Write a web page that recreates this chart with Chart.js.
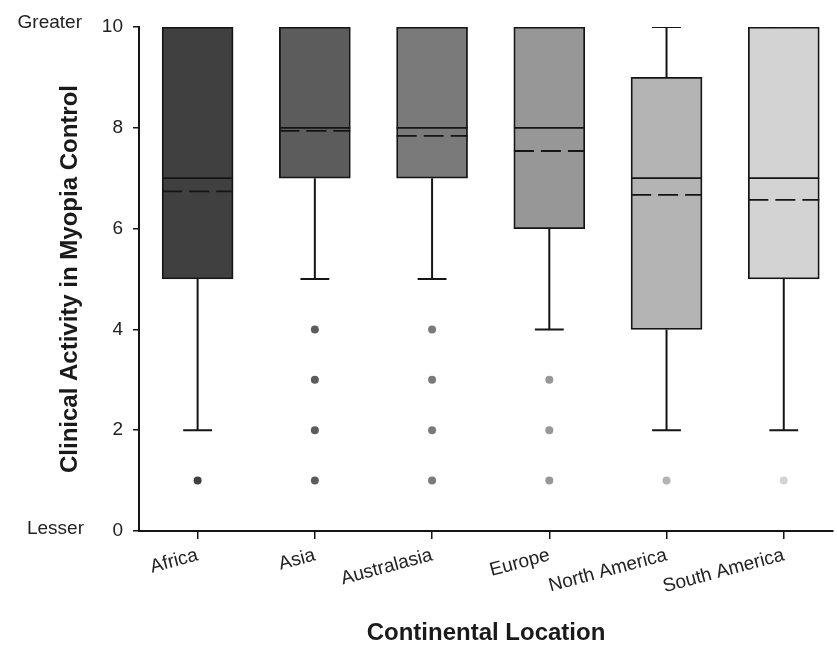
<!DOCTYPE html>
<html><head><meta charset="utf-8">
<script src="https://cdn.jsdelivr.net/npm/chart.js@4.4.0/dist/chart.umd.min.js"></script>
<style>html,body{margin:0;padding:0;background:#fff}#wrap{width:837px;height:645px}</style>
</head><body><div id="wrap"><canvas id="c" width="837" height="645"></canvas></div>
<script>
const categories = ['Africa', 'Asia', 'Australasia', 'Europe', 'North America', 'South America'];
const q1 = [5, 7, 7, 6, 4, 5];
const q3 = [10, 10, 10, 10, 9, 10];
const medians = [7, 8, 8, 8, 7, 7];
const means = [6.74, 7.94, 7.84, 7.54, 6.67, 6.57];
const whiskerLow = [2, 5, 5, 4, 2, 2];
const whiskerHigh = [10, 10, 10, 10, 10, 10];
const outliers = [[1], [4, 3, 2, 1], [4, 3, 2, 1], [3, 2, 1], [1], [1]];
const yTicks = [0, 2, 4, 6, 8, 10];
const yEndLabels = ['Lesser', 'Greater'];

const boxColors = ['#404040', '#5c5c5c', '#7a7a7a', '#979797', '#b4b4b4', '#d3d3d3'];
const INK = '#151515';
const FONT = "'Liberation Sans', Arial, sans-serif";
const BOX_HALF = 0.302, CAP_HALF = 0.123;

function segs(fn) {
  const out = [];
  categories.forEach((c, i) => { fn(i).forEach(p => out.push(p)); out.push({x: i, y: null}); });
  return out;
}
const whiskerData = segs(i => [{x: i, y: whiskerLow[i]}, {x: i, y: q1[i]}, {x: i, y: null}, {x: i, y: q3[i]}, {x: i, y: whiskerHigh[i]}]);
const capData = segs(i => [{x: i - CAP_HALF, y: whiskerLow[i]}, {x: i + CAP_HALF, y: whiskerLow[i]}, {x: i, y: null},
                           {x: i - CAP_HALF, y: whiskerHigh[i]}, {x: i + CAP_HALF, y: whiskerHigh[i]}]);
const medianData = segs(i => [{x: i - BOX_HALF, y: medians[i]}, {x: i + BOX_HALF, y: medians[i]}]);
const meanData = segs(i => [{x: i - BOX_HALF, y: means[i]}, {x: i + BOX_HALF, y: means[i]}]);
const outlierData = [], outlierColors = [];
outliers.forEach((arr, i) => arr.forEach(v => { outlierData.push({x: i, y: v}); outlierColors.push(boxColors[i]); }));

const endLabels = {
  id: 'endLabels',
  afterDraw(chart) {
    const {ctx, scales: {y}} = chart;
    ctx.save();
    ctx.font = '19px ' + FONT;
    ctx.fillStyle = '#222';
    ctx.textAlign = 'right';
    ctx.textBaseline = 'alphabetic';
    ctx.fillText(yEndLabels[1], 82, y.getPixelForValue(yTicks[yTicks.length - 1]) + 1);
    ctx.fillText(yEndLabels[0], 84, y.getPixelForValue(yTicks[0]) + 3);
    ctx.restore();
  }
};

const lineCommon = {type: 'line', borderColor: INK, pointRadius: 0, spanGaps: false, fill: false, tension: 0};

new Chart(document.getElementById('c'), {
  type: 'bar',
  data: {
    datasets: [
      {type: 'bar', data: categories.map((c, i) => ({x: i, y: [q1[i], q3[i]]})), backgroundColor: boxColors,
       borderColor: INK, borderWidth: 1.8, borderSkipped: false, barThickness: 71, order: 10},
      Object.assign({}, lineCommon, {data: whiskerData, borderWidth: 2, order: 6}),
      Object.assign({}, lineCommon, {data: capData, borderWidth: 2, order: 5}),
      Object.assign({}, lineCommon, {data: medianData, borderWidth: 1.8, order: 4}),
      Object.assign({}, lineCommon, {data: meanData, borderWidth: 1.8, borderDash: [20, 7], order: 3}),
      {type: 'scatter', data: outlierData, pointRadius: 4, pointBackgroundColor: outlierColors, pointBorderWidth: 0, order: 1}
    ]
  },
  options: {
    responsive: false,
    devicePixelRatio: 1,
    animation: false,
    layout: {padding: {left: 0, right: 1, top: 27, bottom: 0}},
    plugins: {legend: {display: false}, tooltip: {enabled: false}},
    scales: {
      x: {
        type: 'linear', min: -0.5, max: 5.42, offset: false,
        afterBuildTicks: s => { s.ticks = categories.map((c, i) => ({value: i})); },
        afterFit: s => { s.height = 114; s.paddingLeft = 0; s.paddingRight = 0; },
        ticks: {autoSkip: false, minRotation: 15, maxRotation: 15, padding: 5, color: '#222',
                font: {family: FONT, size: 19}, callback: v => categories[v] ?? ''},
        grid: {display: true, drawOnChartArea: false, drawTicks: true, tickLength: 8, color: INK, lineWidth: 1.5, offset: false},
        border: {display: true, color: INK, width: 2},
        title: {display: true, text: 'Continental Location', color: '#1a1a1a',
                font: {family: FONT, size: 24, weight: 'bold', lineHeight: 1}, padding: {top: 0, bottom: 0}}
      },
      y: {
        min: 0, max: 10,
        afterBuildTicks: s => { s.ticks = yTicks.map(v => ({value: v})); },
        afterFit: s => { s.width = 139; },
        ticks: {padding: 10, color: '#222', font: {family: FONT, size: 19}},
        grid: {display: true, drawOnChartArea: false, drawTicks: true, tickLength: 6, color: INK, lineWidth: 1.5},
        border: {display: true, color: INK, width: 2},
        title: {display: true, text: 'Clinical Activity in Myopia Control', color: '#1a1a1a',
                font: {family: FONT, size: 24, weight: 'bold', lineHeight: 1}, padding: {top: 58, bottom: 0}}
      }
    }
  },
  plugins: [endLabels]
});
</script></body></html>
